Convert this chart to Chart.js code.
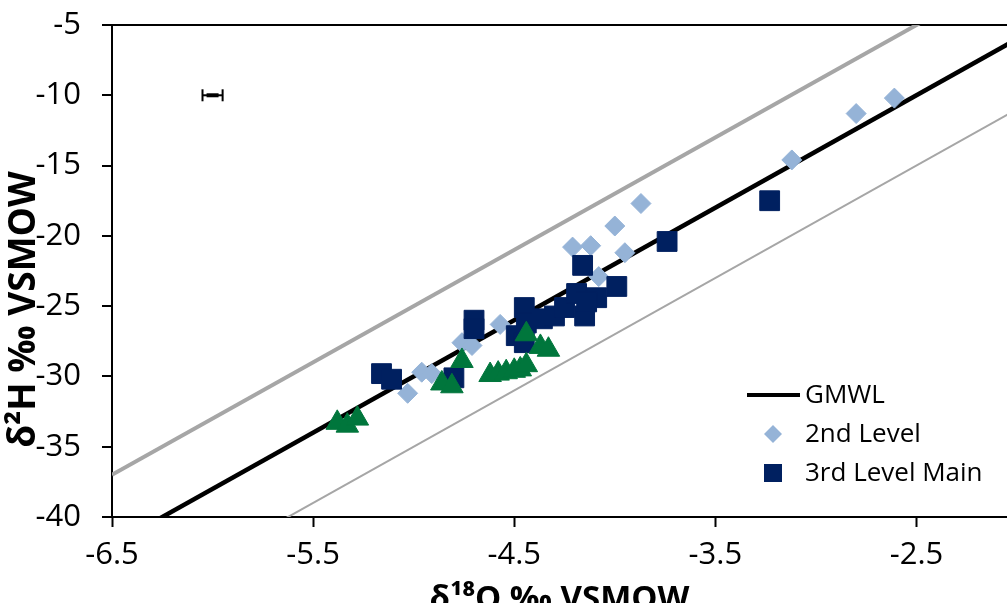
<!DOCTYPE html>
<html lang="en">
<head>
    <meta charset="UTF-8">
    <title>Isotope plot</title>
    <script src="https://cdn.jsdelivr.net/npm/chart.js"></script>
    <style>
        html, body { margin: 0; padding: 0; background: #fff; overflow: hidden; }
        #frame { width: 1007px; height: 603px; overflow: hidden; }
        #box { width: 1007px; height: 619px; position: relative; }
    </style>
</head>
<body>
    <div id="frame"><div id="box"><canvas id="chart"></canvas></div></div>

    <script>
        // tick labels
        const xTicks = [-6.5, -5.5, -4.5, -3.5, -2.5];

        // 2nd Level (diamonds)
        const level2X = [-2.61, -2.80, -3.12, -3.87, -4.00, -4.21, -4.12, -3.95, -4.08, -4.57, -4.76, -4.71, -4.96, -4.91, -5.03];
        const level2Y = [-10.2, -11.3, -14.6, -17.7, -19.3, -20.8, -20.7, -21.2, -22.9, -26.3, -27.6, -27.8, -29.7, -29.8, -31.2];

        // 3rd Level Main (squares)
        const level3X = [-5.16, -5.11, -4.80, -4.70, -4.70, -4.45, -4.49, -4.45, -4.44, -4.36, -4.30, -4.25, -4.19, -4.09, -4.15, -4.16, -3.99, -3.74, -3.23, -4.14];
        const level3Y = [-29.8, -30.2, -30.1, -26.0, -26.6, -25.1, -27.1, -27.6, -26.2, -25.9, -25.7, -25.1, -24.1, -24.4, -25.7, -22.1, -23.6, -20.4, -17.5, -24.7];

        // green triangles (not in the legend)
        const greenX = [-5.38, -5.33, -5.28, -4.86, -4.81, -4.76, -4.62, -4.58, -4.54, -4.50, -4.47, -4.44, -4.44, -4.37, -4.33];
        const greenY = [-33.3, -33.5, -33.0, -30.5, -30.7, -28.9, -29.9, -29.8, -29.7, -29.6, -29.5, -29.2, -27.0, -27.9, -28.1];

        // GMWL and the two grey bounding lines (end points)
        const lineX = [-6.5, -2.0];
        const gmwlY = [-42, -6];
        const upperY = [-37, -1];
        const lowerY = [-47, -11];

        // error bar
        const errX = [-6.05, -6.0, -5.95];
        const errY = [-10, -10, -10];

        const legendOrder = ['GMWL', '2nd Level', '3rd Level Main'];

        const pts = (xs, ys) => xs.map((x, i) => ({ x: x, y: ys[i] }));

        const FONT = '"Open Sans", "Liberation Sans", sans-serif';

        const legendBox = {
            id: 'legendBox',
            afterDatasetsDraw(chart) {
                const { ctx, chartArea } = chart;
                const x0 = chartArea.right - 260;
                const tx = chartArea.right - 202;
                let y = chartArea.bottom - 122;
                ctx.save();
                ctx.font = '26px ' + FONT;
                ctx.textBaseline = 'middle';
                legendOrder.forEach(name => {
                    const d = chart.data.datasets.find(ds => ds.label === name);
                    const cx = x0 + 26;
                    if (d.legendKind === 'line') {
                        ctx.strokeStyle = d.borderColor;
                        ctx.lineWidth = 4;
                        ctx.beginPath();
                        ctx.moveTo(x0, y);
                        ctx.lineTo(x0 + 53, y);
                        ctx.stroke();
                    } else if (d.legendKind === 'diamond') {
                        ctx.fillStyle = d.backgroundColor;
                        ctx.beginPath();
                        ctx.moveTo(cx - 9, y); ctx.lineTo(cx, y - 9);
                        ctx.lineTo(cx + 9, y); ctx.lineTo(cx, y + 9);
                        ctx.closePath();
                        ctx.fill();
                    } else {
                        ctx.fillStyle = d.backgroundColor;
                        ctx.fillRect(cx - 9, y - 9, 18, 18);
                    }
                    ctx.fillStyle = '#000';
                    ctx.fillText(d.label, tx, y + 1);
                    y += 39;
                });
                ctx.restore();
            }
        };

        new Chart(document.getElementById('chart').getContext('2d'), {
            type: 'scatter',
            data: {
                datasets: [
                    {
                        label: 'green', data: pts(greenX, greenY), order: 0,
                        pointStyle: 'triangle', pointRadius: 13, pointHoverRadius: 13,
                        backgroundColor: '#00763C', borderColor: '#00763C', borderWidth: 1
                    },
                    {
                        label: '3rd Level Main', data: pts(level3X, level3Y), order: 1,
                        legendKind: 'square',
                        pointStyle: 'rect', pointRadius: 14, pointHoverRadius: 14,
                        backgroundColor: '#002060', borderColor: '#002060', borderWidth: 1
                    },
                    {
                        label: '2nd Level', data: pts(level2X, level2Y), order: 2,
                        legendKind: 'diamond',
                        pointStyle: 'rectRot', pointRadius: 10, pointHoverRadius: 10,
                        backgroundColor: '#95B3D7', borderColor: '#95B3D7', borderWidth: 1
                    },
                    {
                        label: 'GMWL', data: pts(lineX, gmwlY), order: 3,
                        legendKind: 'line',
                        showLine: true, pointRadius: 0, borderColor: '#000', borderWidth: 4.5, clip: 0
                    },
                    {
                        label: 'upper', data: pts(lineX, upperY), order: 4,
                        showLine: true, pointRadius: 0, borderColor: '#A6A6A6', borderWidth: 4, clip: 0
                    },
                    {
                        label: 'lower', data: pts(lineX, lowerY), order: 4,
                        showLine: true, pointRadius: 0, borderColor: '#A6A6A6', borderWidth: 2, clip: 0
                    },
                    {
                        label: 'error', data: pts(errX, errY), order: 5,
                        showLine: true, borderColor: '#000', borderWidth: 2,
                        pointStyle: 'line', pointRadius: [6, 6, 6], pointRotation: [90, 0, 90],
                        pointBorderWidth: [2, 4, 2], pointBorderColor: '#000'
                    }
                ]
            },
            options: {
                responsive: true,
                maintainAspectRatio: false,
                animation: false,
                layout: { autoPadding: false, padding: { top: 25, left: 0, right: 0, bottom: 0 } },
                plugins: {
                    legend: { display: false },
                    tooltip: { enabled: false }
                },
                scales: {
                    x: {
                        type: 'linear',
                        min: -6.5,
                        max: -2.05,
                        afterBuildTicks: scale => { scale.ticks = xTicks.map(v => ({ value: v })); },
                        afterFit: scale => {
                            scale.height = 102;
                            scale.paddingLeft = 0;
                            scale.paddingRight = 0;
                        },
                        grid: { drawOnChartArea: false, tickColor: '#000', tickLength: 10, tickWidth: 2 },
                        border: { color: '#000', width: 2 },
                        ticks: {
                            color: '#000', padding: 10, maxRotation: 0,
                            font: { family: FONT, size: 31 },
                            callback: v => String(v)
                        },
                        title: {
                            display: true,
                            text: 'δ¹⁸O ‰ VSMOW',
                            color: '#000',
                            padding: { top: 4, bottom: 0 },
                            font: { family: FONT, size: 33, weight: 'bold' }
                        }
                    },
                    y: {
                        min: -40,
                        max: -5,
                        afterFit: scale => {
                            scale.width = 112;
                            scale.paddingTop = 0;
                            scale.paddingBottom = 0;
                        },
                        ticks: {
                            stepSize: 5, color: '#000', padding: 21,
                            font: { family: FONT, size: 31 },
                            callback: v => String(v)
                        },
                        grid: {
                            color: c => (c.tick && c.tick.value === -5) ? '#000' : 'rgba(0,0,0,0)',
                            lineWidth: 2, tickColor: '#000', tickLength: 10, tickWidth: 2
                        },
                        border: { color: '#000', width: 2 },
                        title: {
                            display: true,
                            text: 'δ²H ‰ VSMOW        ',
                            color: '#000',
                            padding: { top: 6, bottom: 0 },
                            font: { family: FONT, size: 37, weight: 'bold', lineHeight: 1.0 }
                        }
                    }
                }
            },
            plugins: [legendBox]
        });
    </script>
</body>
</html>
